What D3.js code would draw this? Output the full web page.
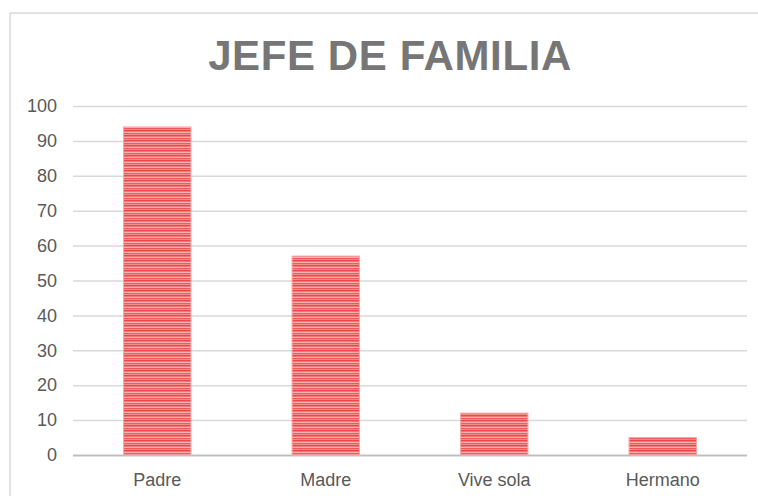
<!DOCTYPE html>
<html>
<head>
<meta charset="utf-8">
<script src="https://cdn.jsdelivr.net/npm/d3@7"></script>
<style>
  body { margin: 0; background: #fff; }
  text { font-family: "Liberation Sans", Arial, sans-serif; }
</style>
</head>
<body>
<main></main>
<script>
// Data
const categories = ['Padre', 'Madre', 'Vive sola', 'Hermano']
const values = [94, 57, 12, 5]
const yTicks = [0, 10, 20, 30, 40, 50, 60, 70, 80, 90, 100]
const title = 'JEFE DE FAMILIA'

function GeneratePlot() {
    // Configuration
    const width = 758
    const height = 496
    const plot = { left: 73, right: 747, top: 106, bottom: 455 }

    const svg = d3.select('main')
        .append('svg')
        .attr('width', width)
        .attr('height', height)

    // stripe fill for bars
    const pat = svg.append('defs')
        .append('pattern')
        .attr('id', 'stripes')
        .attr('patternUnits', 'userSpaceOnUse')
        .attr('width', 8)
        .attr('height', 5)
    const rows = ['#ec4646', '#f27676', '#f8b0b0', '#f05a5a', '#f48c8c']
    rows.forEach((c, i) => {
        pat.append('rect')
            .attr('x', 0).attr('y', i)
            .attr('width', 8).attr('height', 1)
            .attr('fill', c)
    })

    // outer frame (top and left edges visible)
    svg.append('line')
        .attr('x1', 10).attr('x2', width)
        .attr('y1', 13).attr('y2', 13)
        .attr('stroke', '#d9d9d9').attr('stroke-width', 1.5)
    svg.append('line')
        .attr('x1', 10).attr('x2', 10)
        .attr('y1', 13).attr('y2', height)
        .attr('stroke', '#d9d9d9').attr('stroke-width', 1.5)

    // Scales
    const x = d3.scaleBand()
        .domain(categories)
        .range([plot.left, plot.right])
        .paddingInner(0.6)
        .paddingOuter(0.3)
    const y = d3.scaleLinear()
        .domain([0, 100])
        .range([plot.bottom, plot.top])

    // Title
    svg.append('text')
        .attr('x', 390)
        .attr('y', 70)
        .attr('text-anchor', 'middle')
        .attr('font-size', 42)
        .attr('font-weight', 'bold')
        .attr('letter-spacing', 0.6)
        .attr('fill', '#767676')
        .text(title)

    // Gridlines + y labels
    const yAxis = svg.append('g')
        .attr('transform', `translate(${plot.left},0)`)
        .call(d3.axisLeft(y).tickValues(yTicks).tickSize(-(plot.right - plot.left)).tickPadding(16))
    yAxis.select('.domain').remove()
    yAxis.selectAll('.tick line')
        .attr('stroke', d => d === 0 ? '#bfbfbf' : '#d9d9d9')
        .attr('stroke-width', d => d === 0 ? 2 : 1.5)
    yAxis.selectAll('.tick text')
        .attr('font-size', 18)
        .attr('fill', '#595959')
        .style('font-family', '"Liberation Sans", Arial, sans-serif')

    // Bars
    svg.append('g')
        .selectAll('rect')
        .data(values)
        .join('rect')
        .attr('x', (d, i) => x(categories[i]))
        .attr('y', d => y(d))
        .attr('width', x.bandwidth())
        .attr('height', d => y(0) - y(d))
        .attr('fill', 'url(#stripes)')
        .attr('stroke', '#f7a8a8')
        .attr('stroke-width', 1)

    // x labels
    const xAxis = svg.append('g')
        .attr('transform', `translate(0,${plot.bottom})`)
        .call(d3.axisBottom(x).tickSize(0).tickPadding(18))
    xAxis.select('.domain').remove()
    xAxis.selectAll('.tick text')
        .attr('font-size', 18)
        .attr('fill', '#595959')
        .style('font-family', '"Liberation Sans", Arial, sans-serif')
}

GeneratePlot()
</script>
</body>
</html>
